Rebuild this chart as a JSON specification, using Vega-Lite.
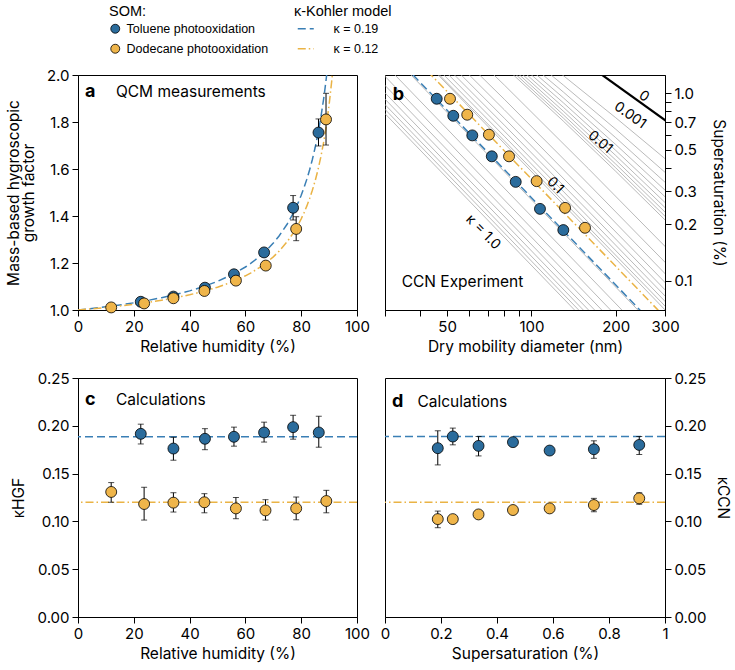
{
  "$schema": "https://vega.github.io/schema/vega-lite/v6.json",
  "padding": {"left": 5, "top": 5, "right": 2, "bottom": 3},
  "background": "white",
  "config": {
    "font": "Inter",
    "view": {"stroke": "black", "strokeWidth": 1},
    "axis": {"grid": false, "domainColor": "black", "domainWidth": 1, "tickColor": "black", "tickWidth": 1, "tickSize": 6, "labelColor": "black", "labelFont": "Inter", "labelFontSize": 15, "titleFont": "Inter", "titleColor": "black", "titleFontSize": 15.5, "titleFontWeight": "normal", "labelPadding": 3, "titlePadding": 10, "titleLineHeight": 15, "labelFlush": false, "labelOverlap": false},
    "axisX": {"titlePadding": 5},
    "legend": {"labelColor": "black", "titleColor": "black", "labelFont": "Liberation Sans", "titleFont": "Liberation Sans", "labelFontSize": 12.5, "titleFontSize": 14.5, "titleFontWeight": "normal", "padding": 0}
  },
  "datasets": {
    "pts_a": [
      {"RH": 22.5, "GF": 1.035, "SOM": "Toluene photooxidation"},
      {"RH": 34.2, "GF": 1.057, "SOM": "Toluene photooxidation"},
      {"RH": 45.5, "GF": 1.095, "SOM": "Toluene photooxidation"},
      {"RH": 55.9, "GF": 1.152, "SOM": "Toluene photooxidation"},
      {"RH": 66.7, "GF": 1.245, "SOM": "Toluene photooxidation"},
      {"RH": 77.1, "GF": 1.435, "SOM": "Toluene photooxidation"},
      {"RH": 86.2, "GF": 1.755, "SOM": "Toluene photooxidation"},
      {"RH": 11.9, "GF": 1.011, "SOM": "Dodecane photooxidation"},
      {"RH": 23.7, "GF": 1.028, "SOM": "Dodecane photooxidation"},
      {"RH": 34.2, "GF": 1.05, "SOM": "Dodecane photooxidation"},
      {"RH": 45.3, "GF": 1.081, "SOM": "Dodecane photooxidation"},
      {"RH": 56.6, "GF": 1.125, "SOM": "Dodecane photooxidation"},
      {"RH": 67.3, "GF": 1.189, "SOM": "Dodecane photooxidation"},
      {"RH": 78.2, "GF": 1.345, "SOM": "Dodecane photooxidation"},
      {"RH": 88.9, "GF": 1.811, "SOM": "Dodecane photooxidation"}
    ],
    "err_a": [
      {"RH": 77.1, "lo": 1.383, "hi": 1.487},
      {"RH": 86.2, "lo": 1.698, "hi": 1.813},
      {"RH": 78.2, "lo": 1.295, "hi": 1.397},
      {"RH": 88.9, "lo": 1.702, "hi": 1.922}
    ],
    "curve_a": [
      {"RH": 0, "GF": 1, "model": "κ = 0.19"}, {"RH": 5, "GF": 1.0064, "model": "κ = 0.19"}, {"RH": 10, "GF": 1.0136, "model": "κ = 0.19"}, {"RH": 15, "GF": 1.0215, "model": "κ = 0.19"}, {"RH": 20, "GF": 1.0305, "model": "κ = 0.19"}, {"RH": 25, "GF": 1.0407, "model": "κ = 0.19"}, {"RH": 30, "GF": 1.0523, "model": "κ = 0.19"}, {"RH": 35, "GF": 1.0657, "model": "κ = 0.19"}, {"RH": 40, "GF": 1.0813, "model": "κ = 0.19"}, {"RH": 45, "GF": 1.0998, "model": "κ = 0.19"}, {"RH": 50, "GF": 1.122, "model": "κ = 0.19"}, {"RH": 55, "GF": 1.1491, "model": "κ = 0.19"}, {"RH": 60, "GF": 1.183, "model": "κ = 0.19"}, {"RH": 62, "GF": 1.1991, "model": "κ = 0.19"}, {"RH": 65, "GF": 1.2266, "model": "κ = 0.19"}, {"RH": 68, "GF": 1.2593, "model": "κ = 0.19"}, {"RH": 70, "GF": 1.2847, "model": "κ = 0.19"}, {"RH": 72, "GF": 1.3137, "model": "κ = 0.19"}, {"RH": 75, "GF": 1.366, "model": "κ = 0.19"}, {"RH": 77, "GF": 1.4085, "model": "κ = 0.19"}, {"RH": 79, "GF": 1.459, "model": "κ = 0.19"}, {"RH": 80, "GF": 1.488, "model": "κ = 0.19"}, {"RH": 81, "GF": 1.5201, "model": "κ = 0.19"}, {"RH": 82, "GF": 1.5558, "model": "κ = 0.19"}, {"RH": 83, "GF": 1.5956, "model": "κ = 0.19"}, {"RH": 84, "GF": 1.6405, "model": "κ = 0.19"}, {"RH": 85, "GF": 1.6913, "model": "κ = 0.19"}, {"RH": 86, "GF": 1.7494, "model": "κ = 0.19"}, {"RH": 87, "GF": 1.8164, "model": "κ = 0.19"}, {"RH": 88, "GF": 1.8947, "model": "κ = 0.19"}, {"RH": 88.5, "GF": 1.9389, "model": "κ = 0.19"}, {"RH": 89, "GF": 1.9871, "model": "κ = 0.19"}, {"RH": 89.5, "GF": 2.04, "model": "κ = 0.19"}, {"RH": 90, "GF": 2.098, "model": "κ = 0.19"},
      {"RH": 0, "GF": 1, "model": "κ = 0.12"}, {"RH": 5, "GF": 1.0051, "model": "κ = 0.12"}, {"RH": 10, "GF": 1.0108, "model": "κ = 0.12"}, {"RH": 15, "GF": 1.0171, "model": "κ = 0.12"}, {"RH": 20, "GF": 1.0243, "model": "κ = 0.12"}, {"RH": 25, "GF": 1.0323, "model": "κ = 0.12"}, {"RH": 30, "GF": 1.0416, "model": "κ = 0.12"}, {"RH": 35, "GF": 1.0522, "model": "κ = 0.12"}, {"RH": 40, "GF": 1.0647, "model": "κ = 0.12"}, {"RH": 45, "GF": 1.0794, "model": "κ = 0.12"}, {"RH": 50, "GF": 1.097, "model": "κ = 0.12"}, {"RH": 55, "GF": 1.1186, "model": "κ = 0.12"}, {"RH": 60, "GF": 1.1455, "model": "κ = 0.12"}, {"RH": 62, "GF": 1.1583, "model": "κ = 0.12"}, {"RH": 65, "GF": 1.1801, "model": "κ = 0.12"}, {"RH": 68, "GF": 1.2061, "model": "κ = 0.12"}, {"RH": 70, "GF": 1.2263, "model": "κ = 0.12"}, {"RH": 72, "GF": 1.2494, "model": "κ = 0.12"}, {"RH": 75, "GF": 1.291, "model": "κ = 0.12"}, {"RH": 77, "GF": 1.3248, "model": "κ = 0.12"}, {"RH": 79, "GF": 1.3649, "model": "κ = 0.12"}, {"RH": 80, "GF": 1.388, "model": "κ = 0.12"}, {"RH": 81, "GF": 1.4135, "model": "κ = 0.12"}, {"RH": 82, "GF": 1.4419, "model": "κ = 0.12"}, {"RH": 83, "GF": 1.4736, "model": "κ = 0.12"}, {"RH": 84, "GF": 1.5093, "model": "κ = 0.12"}, {"RH": 85, "GF": 1.5497, "model": "κ = 0.12"}, {"RH": 86, "GF": 1.5959, "model": "κ = 0.12"}, {"RH": 87, "GF": 1.6491, "model": "κ = 0.12"}, {"RH": 88, "GF": 1.7113, "model": "κ = 0.12"}, {"RH": 89, "GF": 1.7848, "model": "κ = 0.12"}, {"RH": 90, "GF": 1.873, "model": "κ = 0.12"}, {"RH": 91, "GF": 1.9807, "model": "κ = 0.12"}, {"RH": 92, "GF": 2.1155, "model": "κ = 0.12"}
    ],
    "text_a": [{"RH": 2.5, "GF": 1.928, "t": "a"}],
    "text_a2": [{"RH": 13.6, "GF": 1.928, "t": "QCM measurements"}],
    "pts_b": [
      {"D": 45.9, "SS": 0.934, "SOM": "Toluene photooxidation"},
      {"D": 52.6, "SS": 0.758, "SOM": "Toluene photooxidation"},
      {"D": 61.5, "SS": 0.596, "SOM": "Toluene photooxidation"},
      {"D": 72.2, "SS": 0.461, "SOM": "Toluene photooxidation"},
      {"D": 87.9, "SS": 0.337, "SOM": "Toluene photooxidation"},
      {"D": 107.3, "SS": 0.242, "SOM": "Toluene photooxidation"},
      {"D": 130, "SS": 0.1866, "SOM": "Toluene photooxidation"},
      {"D": 51.2, "SS": 0.934, "SOM": "Dodecane photooxidation"},
      {"D": 59.0, "SS": 0.768, "SOM": "Dodecane photooxidation"},
      {"D": 70.5, "SS": 0.601, "SOM": "Dodecane photooxidation"},
      {"D": 83.2, "SS": 0.461, "SOM": "Dodecane photooxidation"},
      {"D": 104.4, "SS": 0.34, "SOM": "Dodecane photooxidation"},
      {"D": 131.9, "SS": 0.245, "SOM": "Dodecane photooxidation"},
      {"D": 155.4, "SS": 0.1919, "SOM": "Dodecane photooxidation"}
    ],
    "model_b": [
      {"D": 25, "SS": 2.3651, "model": "κ = 0.19"}, {"D": 320, "SS": 0.04605, "model": "κ = 0.19"},
      {"D": 25, "SS": 2.976, "model": "κ = 0.12"}, {"D": 320, "SS": 0.05794, "model": "κ = 0.12"}
    ],
    "kelvin_b": [{"D": 170, "SS": 1.3205}, {"D": 310, "SS": 0.6942}],
    "grey_b": [
      {"kappa": "1.0", "D": 25, "SS": 1.0309}, {"kappa": "1.0", "D": 320, "SS": 0.02007},
      {"kappa": "0.9", "D": 25, "SS": 1.0867}, {"kappa": "0.9", "D": 320, "SS": 0.02116},
      {"kappa": "0.8", "D": 25, "SS": 1.1526}, {"kappa": "0.8", "D": 320, "SS": 0.02244},
      {"kappa": "0.7", "D": 25, "SS": 1.2322}, {"kappa": "0.7", "D": 320, "SS": 0.02399},
      {"kappa": "0.6", "D": 25, "SS": 1.3309}, {"kappa": "0.6", "D": 320, "SS": 0.02591},
      {"kappa": "0.5", "D": 25, "SS": 1.4579}, {"kappa": "0.5", "D": 320, "SS": 0.02838},
      {"kappa": "0.4", "D": 25, "SS": 1.63}, {"kappa": "0.4", "D": 320, "SS": 0.03173},
      {"kappa": "0.3", "D": 25, "SS": 1.8822}, {"kappa": "0.3", "D": 320, "SS": 0.03664},
      {"kappa": "0.2", "D": 25, "SS": 2.3052}, {"kappa": "0.2", "D": 320, "SS": 0.04488},
      {"kappa": "0.1", "D": 25, "SS": 3.26}, {"kappa": "0.1", "D": 320, "SS": 0.06347},
      {"kappa": "0.09", "D": 40, "SS": 1.595}, {"kappa": "0.09", "D": 80, "SS": 0.5578}, {"kappa": "0.09", "D": 160, "SS": 0.19315}, {"kappa": "0.09", "D": 320, "SS": 0.06654},
      {"kappa": "0.08", "D": 40, "SS": 1.6836}, {"kappa": "0.08", "D": 80, "SS": 0.5901}, {"kappa": "0.08", "D": 160, "SS": 0.2046}, {"kappa": "0.08", "D": 320, "SS": 0.07053},
      {"kappa": "0.07", "D": 40, "SS": 1.7886}, {"kappa": "0.07", "D": 80, "SS": 0.6288}, {"kappa": "0.07", "D": 160, "SS": 0.2184}, {"kappa": "0.07", "D": 320, "SS": 0.07534},
      {"kappa": "0.06", "D": 40, "SS": 1.916}, {"kappa": "0.06", "D": 80, "SS": 0.6762}, {"kappa": "0.06", "D": 160, "SS": 0.2353}, {"kappa": "0.06", "D": 320, "SS": 0.08128},
      {"kappa": "0.05", "D": 40, "SS": 2.0754}, {"kappa": "0.05", "D": 80, "SS": 0.7363}, {"kappa": "0.05", "D": 160, "SS": 0.257}, {"kappa": "0.05", "D": 320, "SS": 0.0889},
      {"kappa": "0.04", "D": 40, "SS": 2.2824}, {"kappa": "0.04", "D": 80, "SS": 0.8159}, {"kappa": "0.04", "D": 160, "SS": 0.286}, {"kappa": "0.04", "D": 320, "SS": 0.09916},
      {"kappa": "0.03", "D": 40, "SS": 2.567}, {"kappa": "0.03", "D": 80, "SS": 0.9286}, {"kappa": "0.03", "D": 160, "SS": 0.3277}, {"kappa": "0.03", "D": 320, "SS": 0.11405},
      {"kappa": "0.02", "D": 40, "SS": 2.994}, {"kappa": "0.02", "D": 80, "SS": 1.1062}, {"kappa": "0.02", "D": 160, "SS": 0.3954}, {"kappa": "0.02", "D": 320, "SS": 0.1386},
      {"kappa": "0.01", "D": 80, "SS": 1.3884}, {"kappa": "0.01", "D": 130, "SS": 0.7101}, {"kappa": "0.01", "D": 200, "SS": 0.3837}, {"kappa": "0.01", "D": 320, "SS": 0.1923},
      {"kappa": "0.009", "D": 80, "SS": 1.4337}, {"kappa": "0.009", "D": 130, "SS": 0.7374}, {"kappa": "0.009", "D": 200, "SS": 0.4005}, {"kappa": "0.009", "D": 320, "SS": 0.2012},
      {"kappa": "0.008", "D": 80, "SS": 1.4834}, {"kappa": "0.008", "D": 130, "SS": 0.7679}, {"kappa": "0.008", "D": 200, "SS": 0.4193}, {"kappa": "0.008", "D": 320, "SS": 0.2119},
      {"kappa": "0.007", "D": 80, "SS": 1.5392}, {"kappa": "0.007", "D": 130, "SS": 0.8024}, {"kappa": "0.007", "D": 200, "SS": 0.4406}, {"kappa": "0.007", "D": 320, "SS": 0.2241},
      {"kappa": "0.006", "D": 80, "SS": 1.6035}, {"kappa": "0.006", "D": 130, "SS": 0.8424}, {"kappa": "0.006", "D": 200, "SS": 0.4659}, {"kappa": "0.006", "D": 320, "SS": 0.2388},
      {"kappa": "0.005", "D": 80, "SS": 1.6757}, {"kappa": "0.005", "D": 130, "SS": 0.8893}, {"kappa": "0.005", "D": 200, "SS": 0.496}, {"kappa": "0.005", "D": 320, "SS": 0.2566},
      {"kappa": "0.004", "D": 80, "SS": 1.7615}, {"kappa": "0.004", "D": 130, "SS": 0.9453}, {"kappa": "0.004", "D": 200, "SS": 0.5329}, {"kappa": "0.004", "D": 320, "SS": 0.2787},
      {"kappa": "0.003", "D": 80, "SS": 1.865}, {"kappa": "0.003", "D": 130, "SS": 1.0149}, {"kappa": "0.003", "D": 200, "SS": 0.5797}, {"kappa": "0.003", "D": 320, "SS": 0.3076},
      {"kappa": "0.002", "D": 80, "SS": 1.9997}, {"kappa": "0.002", "D": 130, "SS": 1.1054}, {"kappa": "0.002", "D": 200, "SS": 0.6432}, {"kappa": "0.002", "D": 320, "SS": 0.3484},
      {"kappa": "0.001", "D": 80, "SS": 2.19}, {"kappa": "0.001", "D": 130, "SS": 1.2414}, {"kappa": "0.001", "D": 200, "SS": 0.7404}, {"kappa": "0.001", "D": 320, "SS": 0.4137}
    ],
    "lab_b45": [{"D": 67.2, "SS": 0.1816, "t": "κ = 1.0"}, {"D": 121.5, "SS": 0.323, "t": "0.1"}],
    "lab_b40": [{"D": 176, "SS": 0.547, "t": "0.01"}],
    "lab_b35": [{"D": 225, "SS": 0.761, "t": "0.001"}, {"D": 252, "SS": 0.961, "t": "0"}],
    "text_b": [{"D": 32.0, "SS": 0.984, "t": "b"}],
    "text_b2": [{"D": 34.4, "SS": 0.0982, "t": "CCN Experiment"}],
    "pts_c": [
      {"RH": 22.5, "k": 0.1916, "lo": 0.181, "hi": 0.2017, "SOM": "Toluene photooxidation"},
      {"RH": 34.2, "k": 0.1762, "lo": 0.164, "hi": 0.188, "SOM": "Toluene photooxidation"},
      {"RH": 45.5, "k": 0.1864, "lo": 0.175, "hi": 0.197, "SOM": "Toluene photooxidation"},
      {"RH": 55.9, "k": 0.1885, "lo": 0.1787, "hi": 0.1986, "SOM": "Toluene photooxidation"},
      {"RH": 66.7, "k": 0.193, "lo": 0.183, "hi": 0.2038, "SOM": "Toluene photooxidation"},
      {"RH": 77.1, "k": 0.1986, "lo": 0.186, "hi": 0.211, "SOM": "Toluene photooxidation"},
      {"RH": 86.3, "k": 0.193, "lo": 0.1776, "hi": 0.21, "SOM": "Toluene photooxidation"},
      {"RH": 11.9, "k": 0.1308, "lo": 0.12, "hi": 0.1406, "SOM": "Dodecane photooxidation"},
      {"RH": 23.7, "k": 0.1182, "lo": 0.1014, "hi": 0.1357, "SOM": "Dodecane photooxidation"},
      {"RH": 34.2, "k": 0.1196, "lo": 0.1098, "hi": 0.13, "SOM": "Dodecane photooxidation"},
      {"RH": 45.3, "k": 0.12, "lo": 0.109, "hi": 0.129, "SOM": "Dodecane photooxidation"},
      {"RH": 56.6, "k": 0.1136, "lo": 0.1028, "hi": 0.125, "SOM": "Dodecane photooxidation"},
      {"RH": 67.2, "k": 0.1115, "lo": 0.1014, "hi": 0.1227, "SOM": "Dodecane photooxidation"},
      {"RH": 78.2, "k": 0.1136, "lo": 0.1017, "hi": 0.1255, "SOM": "Dodecane photooxidation"},
      {"RH": 89.0, "k": 0.1213, "lo": 0.109, "hi": 0.1325, "SOM": "Dodecane photooxidation"}
    ],
    "ref_c": [{"k": 0.1885, "model": "κ = 0.19"}, {"k": 0.12, "model": "κ = 0.12"}],
    "text_c": [{"RH": 2.5, "k": 0.227, "t": "c"}],
    "text_c2": [{"RH": 13.6, "k": 0.227, "t": "Calculations"}],
    "pts_d": [
      {"SSd": 0.1885, "k": 0.1766, "lo": 0.1591, "hi": 0.1948, "SOM": "Toluene photooxidation"},
      {"SSd": 0.2422, "k": 0.1888, "lo": 0.1801, "hi": 0.1976, "SOM": "Toluene photooxidation"},
      {"SSd": 0.3341, "k": 0.179, "lo": 0.1685, "hi": 0.1888, "SOM": "Toluene photooxidation"},
      {"SSd": 0.457, "k": 0.1829, "lo": 0.179, "hi": 0.186, "SOM": "Toluene photooxidation"},
      {"SSd": 0.588, "k": 0.1741, "lo": 0.1706, "hi": 0.1776, "SOM": "Toluene photooxidation"},
      {"SSd": 0.746, "k": 0.1755, "lo": 0.166, "hi": 0.1843, "SOM": "Toluene photooxidation"},
      {"SSd": 0.908, "k": 0.18, "lo": 0.17, "hi": 0.1888, "SOM": "Toluene photooxidation"},
      {"SSd": 0.1885, "k": 0.1024, "lo": 0.0934, "hi": 0.1108, "SOM": "Dodecane photooxidation"},
      {"SSd": 0.2422, "k": 0.1024, "lo": 0.1004, "hi": 0.1044, "SOM": "Dodecane photooxidation"},
      {"SSd": 0.334, "k": 0.1073, "lo": 0.1053, "hi": 0.1093, "SOM": "Dodecane photooxidation"},
      {"SSd": 0.457, "k": 0.1119, "lo": 0.1099, "hi": 0.1139, "SOM": "Dodecane photooxidation"},
      {"SSd": 0.588, "k": 0.1136, "lo": 0.1116, "hi": 0.1156, "SOM": "Dodecane photooxidation"},
      {"SSd": 0.746, "k": 0.1171, "lo": 0.1101, "hi": 0.1241, "SOM": "Dodecane photooxidation"},
      {"SSd": 0.908, "k": 0.1241, "lo": 0.118, "hi": 0.13, "SOM": "Dodecane photooxidation"}
    ],
    "ref_d": [{"k": 0.1888, "model": "κ = 0.19"}, {"k": 0.12, "model": "κ = 0.12"}],
    "text_d": [{"SSd": 0.025, "k": 0.225, "t": "d"}],
    "text_d2": [{"SSd": 0.116, "k": 0.225, "t": "Calculations"}]
  },
  "columns": 2,
  "spacing": {"row": 68, "column": 28},
  "bounds": "flush",
  "concat": [
    {
      "width": 279, "height": 235,
      "layer": [
        {
          "data": {"name": "curve_a"},
          "mark": {"type": "line", "clip": true, "strokeWidth": 1.5},
          "encoding": {
            "x": {"field": "RH", "type": "quantitative", "title": "Relative humidity (%)", "scale": {"domain": [0, 100], "nice": false}, "axis": {"values": [0, 20, 40, 60, 80, 100]}},
            "y": {"field": "GF", "type": "quantitative", "title": ["Mass-based hygroscopic", "growth factor"], "scale": {"domain": [1, 2], "nice": false, "zero": false}, "axis": {"values": [1, 1.2, 1.4, 1.6, 1.8, 2], "format": ".1f"}},
            "stroke": {"field": "model", "type": "nominal", "scale": {"domain": ["κ = 0.19", "κ = 0.12"], "range": ["#3a7fb5", "#eab345"]}, "legend": {"title": "κ-Kohler model", "orient": "none", "legendX": 216, "legendY": -70, "direction": "vertical", "symbolType": "M-0.5,0H2.7", "symbolSize": 100, "symbolStrokeWidth": 1.5, "symbolFillColor": "transparent", "labelOffset": 27, "rowPadding": 7, "titlePadding": 3}},
            "strokeDash": {"field": "model", "type": "nominal", "scale": {"domain": ["κ = 0.19", "κ = 0.12"], "range": [[8, 4], [8, 3, 1.5, 3]]}, "legend": {"title": "κ-Kohler model", "orient": "none", "legendX": 216, "legendY": -70, "direction": "vertical", "symbolType": "M-0.5,0H2.7", "symbolSize": 100, "symbolStrokeWidth": 1.5, "symbolFillColor": "transparent", "labelOffset": 27, "rowPadding": 7, "titlePadding": 3}}
          }
        },
        {
          "data": {"name": "err_a"},
          "mark": {"type": "errorbar", "color": "black", "ticks": {"size": 6, "color": "black", "strokeWidth": 1}, "rule": {"strokeWidth": 1, "color": "black"}},
          "encoding": {
            "x": {"field": "RH", "type": "quantitative", "title": "Relative humidity (%)"},
            "y": {"field": "lo", "type": "quantitative", "title": ["Mass-based hygroscopic", "growth factor"]},
            "y2": {"field": "hi"}
          }
        },
        {
          "data": {"name": "pts_a"},
          "mark": {"type": "point", "filled": true, "size": 120, "stroke": "black", "strokeWidth": 0.8, "opacity": 1},
          "encoding": {
            "x": {"field": "RH", "type": "quantitative", "title": "Relative humidity (%)"},
            "y": {"field": "GF", "type": "quantitative", "title": ["Mass-based hygroscopic", "growth factor"]},
            "fill": {"field": "SOM", "type": "nominal", "sort": null, "scale": {"domain": ["Toluene photooxidation", "Dodecane photooxidation"], "range": ["#2b6c9c", "#efb54a"]}, "legend": {"title": "SOM:", "orient": "none", "legendX": 31, "legendY": -70, "direction": "vertical", "symbolType": "circle", "symbolSize": 80, "symbolStrokeColor": "black", "symbolStrokeWidth": 0.8, "symbolOpacity": 1, "labelOffset": 5, "rowPadding": 7, "titlePadding": 3}}
          }
        },
        {
          "data": {"name": "text_a"},
          "mark": {"type": "text", "align": "left", "baseline": "middle", "fontSize": 18, "fontWeight": "bold"},
          "encoding": {"x": {"field": "RH", "type": "quantitative", "title": "Relative humidity (%)"}, "y": {"field": "GF", "type": "quantitative", "title": ["Mass-based hygroscopic", "growth factor"]}, "text": {"field": "t"}}
        },
        {
          "data": {"name": "text_a2"},
          "mark": {"type": "text", "align": "left", "baseline": "middle", "fontSize": 15.5},
          "encoding": {"x": {"field": "RH", "type": "quantitative", "title": "Relative humidity (%)"}, "y": {"field": "GF", "type": "quantitative", "title": ["Mass-based hygroscopic", "growth factor"]}, "text": {"field": "t"}}
        }
      ]
    },
    {
      "width": 280, "height": 235,
      "layer": [
        {
          "data": {"name": "grey_b"},
          "mark": {"type": "line", "clip": true, "strokeWidth": 0.8, "color": "#a8a8a8"},
          "encoding": {
            "x": {"field": "D", "type": "quantitative", "title": "Dry mobility diameter (nm)", "scale": {"type": "log", "domain": [30, 300], "nice": false}, "axis": {"values": [30, 40, 50, 60, 70, 80, 90, 100, 200, 300], "labelExpr": "indexof([50, 100, 200, 300], datum.value) >= 0 ? format(datum.value, 'd') : ''"}},
            "y": {"field": "SS", "type": "quantitative", "title": "Supersaturation (%)", "scale": {"type": "log", "domain": [0.07, 1.25], "nice": false}, "axis": {"orient": "right", "titlePadding": 14, "values": [0.1, 0.2, 0.3, 0.4, 0.5, 0.6, 0.7, 0.8, 0.9, 1.0], "labelExpr": "indexof([0.1, 0.2, 0.3, 0.5, 0.7, 1], datum.value) >= 0 ? format(datum.value, '.1f') : ''"}},
            "detail": {"field": "kappa", "type": "nominal"}
          }
        },
        {
          "data": {"name": "kelvin_b"},
          "mark": {"type": "line", "clip": true, "strokeWidth": 2.2, "color": "black"},
          "encoding": {
            "x": {"field": "D", "type": "quantitative", "title": "Dry mobility diameter (nm)"},
            "y": {"field": "SS", "type": "quantitative", "title": "Supersaturation (%)"}
          }
        },
        {
          "data": {"name": "model_b"},
          "mark": {"type": "line", "clip": true, "strokeWidth": 1.5},
          "encoding": {
            "x": {"field": "D", "type": "quantitative", "title": "Dry mobility diameter (nm)"},
            "y": {"field": "SS", "type": "quantitative", "title": "Supersaturation (%)"},
            "stroke": {"field": "model", "type": "nominal", "scale": {"domain": ["κ = 0.19", "κ = 0.12"], "range": ["#3a7fb5", "#eab345"]}, "legend": {"title": "κ-Kohler model", "orient": "none", "legendX": 216, "legendY": -70, "direction": "vertical", "symbolType": "M-0.5,0H2.7", "symbolSize": 100, "symbolStrokeWidth": 1.5, "symbolFillColor": "transparent", "labelOffset": 27, "rowPadding": 7, "titlePadding": 3}},
            "strokeDash": {"field": "model", "type": "nominal", "scale": {"domain": ["κ = 0.19", "κ = 0.12"], "range": [[8, 4], [8, 3, 1.5, 3]]}, "legend": {"title": "κ-Kohler model", "orient": "none", "legendX": 216, "legendY": -70, "direction": "vertical", "symbolType": "M-0.5,0H2.7", "symbolSize": 100, "symbolStrokeWidth": 1.5, "symbolFillColor": "transparent", "labelOffset": 27, "rowPadding": 7, "titlePadding": 3}}
          }
        },
        {
          "data": {"name": "pts_b"},
          "mark": {"type": "point", "filled": true, "size": 120, "stroke": "black", "strokeWidth": 0.8, "opacity": 1},
          "encoding": {
            "x": {"field": "D", "type": "quantitative", "title": "Dry mobility diameter (nm)"},
            "y": {"field": "SS", "type": "quantitative", "title": "Supersaturation (%)"},
            "fill": {"field": "SOM", "type": "nominal", "sort": null, "scale": {"domain": ["Toluene photooxidation", "Dodecane photooxidation"], "range": ["#2b6c9c", "#efb54a"]}, "legend": {"title": "SOM:", "orient": "none", "legendX": 31, "legendY": -70, "direction": "vertical", "symbolType": "circle", "symbolSize": 80, "symbolStrokeColor": "black", "symbolStrokeWidth": 0.8, "symbolOpacity": 1, "labelOffset": 5, "rowPadding": 7, "titlePadding": 3}}
          }
        },
        {
          "data": {"name": "lab_b45"},
          "mark": {"type": "text", "align": "center", "baseline": "middle", "fontSize": 14, "angle": 45},
          "encoding": {"x": {"field": "D", "type": "quantitative", "title": "Dry mobility diameter (nm)"}, "y": {"field": "SS", "type": "quantitative", "title": "Supersaturation (%)"}, "text": {"field": "t"}}
        },
        {
          "data": {"name": "lab_b40"},
          "mark": {"type": "text", "align": "center", "baseline": "middle", "fontSize": 14, "angle": 40},
          "encoding": {"x": {"field": "D", "type": "quantitative", "title": "Dry mobility diameter (nm)"}, "y": {"field": "SS", "type": "quantitative", "title": "Supersaturation (%)"}, "text": {"field": "t"}}
        },
        {
          "data": {"name": "lab_b35"},
          "mark": {"type": "text", "align": "center", "baseline": "middle", "fontSize": 14, "angle": 35},
          "encoding": {"x": {"field": "D", "type": "quantitative", "title": "Dry mobility diameter (nm)"}, "y": {"field": "SS", "type": "quantitative", "title": "Supersaturation (%)"}, "text": {"field": "t"}}
        },
        {
          "data": {"name": "text_b"},
          "mark": {"type": "text", "align": "left", "baseline": "middle", "fontSize": 18, "fontWeight": "bold"},
          "encoding": {"x": {"field": "D", "type": "quantitative", "title": "Dry mobility diameter (nm)"}, "y": {"field": "SS", "type": "quantitative", "title": "Supersaturation (%)"}, "text": {"field": "t"}}
        },
        {
          "data": {"name": "text_b2"},
          "mark": {"type": "text", "align": "left", "baseline": "middle", "fontSize": 15.5},
          "encoding": {"x": {"field": "D", "type": "quantitative", "title": "Dry mobility diameter (nm)"}, "y": {"field": "SS", "type": "quantitative", "title": "Supersaturation (%)"}, "text": {"field": "t"}}
        }
      ]
    },
    {
      "width": 279, "height": 239,
      "layer": [
        {
          "data": {"name": "ref_c"},
          "mark": {"type": "rule", "strokeWidth": 1.5},
          "encoding": {
            "y": {"field": "k", "type": "quantitative", "title": "κHGF", "scale": {"domain": [0, 0.25], "nice": false}, "axis": {"values": [0, 0.05, 0.1, 0.15, 0.2, 0.25], "format": ".2f"}},
            "stroke": {"field": "model", "type": "nominal", "scale": {"domain": ["κ = 0.19", "κ = 0.12"], "range": ["#3a7fb5", "#eab345"]}, "legend": {"title": "κ-Kohler model", "orient": "none", "legendX": 216, "legendY": -70, "direction": "vertical", "symbolType": "M-0.5,0H2.7", "symbolSize": 100, "symbolStrokeWidth": 1.5, "symbolFillColor": "transparent", "labelOffset": 27, "rowPadding": 7, "titlePadding": 3}},
            "strokeDash": {"field": "model", "type": "nominal", "scale": {"domain": ["κ = 0.19", "κ = 0.12"], "range": [[8, 4], [8, 3, 1.5, 3]]}, "legend": {"title": "κ-Kohler model", "orient": "none", "legendX": 216, "legendY": -70, "direction": "vertical", "symbolType": "M-0.5,0H2.7", "symbolSize": 100, "symbolStrokeWidth": 1.5, "symbolFillColor": "transparent", "labelOffset": 27, "rowPadding": 7, "titlePadding": 3}}
          }
        },
        {
          "data": {"name": "pts_c"},
          "mark": {"type": "errorbar", "color": "black", "ticks": {"size": 6, "color": "black", "strokeWidth": 1}, "rule": {"strokeWidth": 1, "color": "black"}},
          "encoding": {
            "x": {"field": "RH", "type": "quantitative", "title": "Relative humidity (%)", "scale": {"domain": [0, 100], "nice": false}, "axis": {"values": [0, 20, 40, 60, 80, 100]}},
            "y": {"field": "lo", "type": "quantitative", "title": "κHGF"},
            "y2": {"field": "hi"}
          }
        },
        {
          "data": {"name": "pts_c"},
          "mark": {"type": "point", "filled": true, "size": 120, "stroke": "black", "strokeWidth": 0.8, "opacity": 1},
          "encoding": {
            "x": {"field": "RH", "type": "quantitative", "title": "Relative humidity (%)"},
            "y": {"field": "k", "type": "quantitative", "title": "κHGF"},
            "fill": {"field": "SOM", "type": "nominal", "sort": null, "scale": {"domain": ["Toluene photooxidation", "Dodecane photooxidation"], "range": ["#2b6c9c", "#efb54a"]}, "legend": {"title": "SOM:", "orient": "none", "legendX": 31, "legendY": -70, "direction": "vertical", "symbolType": "circle", "symbolSize": 80, "symbolStrokeColor": "black", "symbolStrokeWidth": 0.8, "symbolOpacity": 1, "labelOffset": 5, "rowPadding": 7, "titlePadding": 3}}
          }
        },
        {
          "data": {"name": "text_c"},
          "mark": {"type": "text", "align": "left", "baseline": "middle", "fontSize": 18, "fontWeight": "bold"},
          "encoding": {"x": {"field": "RH", "type": "quantitative", "title": "Relative humidity (%)"}, "y": {"field": "k", "type": "quantitative", "title": "κHGF"}, "text": {"field": "t"}}
        },
        {
          "data": {"name": "text_c2"},
          "mark": {"type": "text", "align": "left", "baseline": "middle", "fontSize": 15.5},
          "encoding": {"x": {"field": "RH", "type": "quantitative", "title": "Relative humidity (%)"}, "y": {"field": "k", "type": "quantitative", "title": "κHGF"}, "text": {"field": "t"}}
        }
      ]
    },
    {
      "width": 280, "height": 239,
      "layer": [
        {
          "data": {"name": "ref_d"},
          "mark": {"type": "rule", "strokeWidth": 1.5},
          "encoding": {
            "y": {"field": "k", "type": "quantitative", "title": "κCCN", "scale": {"domain": [0, 0.25], "nice": false}, "axis": {"orient": "right", "titlePadding": 8, "values": [0, 0.05, 0.1, 0.15, 0.2, 0.25], "format": ".2f"}},
            "stroke": {"field": "model", "type": "nominal", "scale": {"domain": ["κ = 0.19", "κ = 0.12"], "range": ["#3a7fb5", "#eab345"]}, "legend": {"title": "κ-Kohler model", "orient": "none", "legendX": 216, "legendY": -70, "direction": "vertical", "symbolType": "M-0.5,0H2.7", "symbolSize": 100, "symbolStrokeWidth": 1.5, "symbolFillColor": "transparent", "labelOffset": 27, "rowPadding": 7, "titlePadding": 3}},
            "strokeDash": {"field": "model", "type": "nominal", "scale": {"domain": ["κ = 0.19", "κ = 0.12"], "range": [[8, 4], [8, 3, 1.5, 3]]}, "legend": {"title": "κ-Kohler model", "orient": "none", "legendX": 216, "legendY": -70, "direction": "vertical", "symbolType": "M-0.5,0H2.7", "symbolSize": 100, "symbolStrokeWidth": 1.5, "symbolFillColor": "transparent", "labelOffset": 27, "rowPadding": 7, "titlePadding": 3}}
          }
        },
        {
          "data": {"name": "pts_d"},
          "mark": {"type": "errorbar", "color": "black", "ticks": {"size": 6, "color": "black", "strokeWidth": 1}, "rule": {"strokeWidth": 1, "color": "black"}},
          "encoding": {
            "x": {"field": "SSd", "type": "quantitative", "title": "Supersaturation (%)", "scale": {"domain": [0, 1], "nice": false}, "axis": {"values": [0, 0.2, 0.4, 0.6, 0.8, 1], "labelExpr": "datum.value == 0 ? '0' : datum.value == 1 ? '1' : format(datum.value, '.1f')"}},
            "y": {"field": "lo", "type": "quantitative", "title": "κCCN"},
            "y2": {"field": "hi"}
          }
        },
        {
          "data": {"name": "pts_d"},
          "mark": {"type": "point", "filled": true, "size": 120, "stroke": "black", "strokeWidth": 0.8, "opacity": 1},
          "encoding": {
            "x": {"field": "SSd", "type": "quantitative", "title": "Supersaturation (%)"},
            "y": {"field": "k", "type": "quantitative", "title": "κCCN"},
            "fill": {"field": "SOM", "type": "nominal", "sort": null, "scale": {"domain": ["Toluene photooxidation", "Dodecane photooxidation"], "range": ["#2b6c9c", "#efb54a"]}, "legend": {"title": "SOM:", "orient": "none", "legendX": 31, "legendY": -70, "direction": "vertical", "symbolType": "circle", "symbolSize": 80, "symbolStrokeColor": "black", "symbolStrokeWidth": 0.8, "symbolOpacity": 1, "labelOffset": 5, "rowPadding": 7, "titlePadding": 3}}
          }
        },
        {
          "data": {"name": "text_d"},
          "mark": {"type": "text", "align": "left", "baseline": "middle", "fontSize": 18, "fontWeight": "bold"},
          "encoding": {"x": {"field": "SSd", "type": "quantitative", "title": "Supersaturation (%)"}, "y": {"field": "k", "type": "quantitative", "title": "κCCN"}, "text": {"field": "t"}}
        },
        {
          "data": {"name": "text_d2"},
          "mark": {"type": "text", "align": "left", "baseline": "middle", "fontSize": 15.5},
          "encoding": {"x": {"field": "SSd", "type": "quantitative", "title": "Supersaturation (%)"}, "y": {"field": "k", "type": "quantitative", "title": "κCCN"}, "text": {"field": "t"}}
        }
      ]
    }
  ]
}
